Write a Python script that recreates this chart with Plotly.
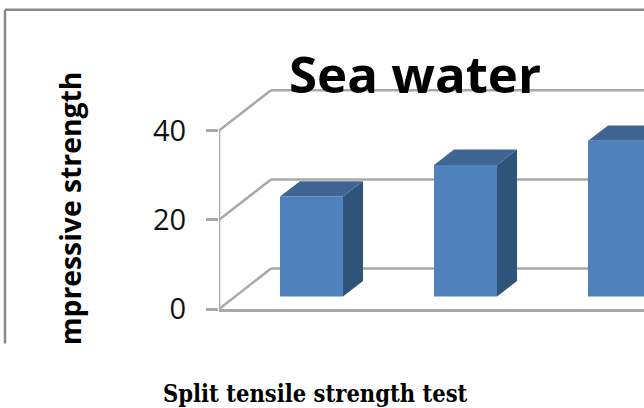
import plotly.graph_objects as go

# Data
categories = [0, 1, 2]
values = [22.4, 29.5, 34.9]
tick_values = [0, 20, 40]
tick_labels = ["0", "20", "40"]
title_text = "Sea water"
y_label = "mpressive strength"
x_label = "Split tensile strength test"

# Pseudo-3D depth in axis units
W, H = 644, 408
PX_PER_Y = 4.47
PX_PER_X = 154.0
DEPTH_X = 52 / PX_PER_X
DEPTH_Y = 40.5 / PX_PER_Y
BAR_W = 63 / PX_PER_X
BAR_DX = 20 / PX_PER_X
BAR_DY = 15.5 / PX_PER_Y
LIFT = 12.5 / PX_PER_Y
X0 = -0.6006
X1 = 2.159
Y_TOP = 50

GRID = "#a8a8a8"
FRONT = "#4f81bd"
SIDE = "#2f5479"
TOP = "#3f6592"

fig = go.Figure()

fig.add_trace(go.Bar(
    x=categories, y=values, base=[LIFT] * len(values), width=BAR_W,
    marker=dict(color=FRONT, line=dict(width=0)), showlegend=False,
))
for c, v in zip(categories, values):
    l, r = c - BAR_W / 2, c + BAR_W / 2
    t, b = v + LIFT, LIFT
    fig.add_trace(go.Scatter(
        x=[r, r + BAR_DX, r + BAR_DX, r, r], y=[b, b + BAR_DY, t + BAR_DY, t, b],
        mode="lines", fill="toself", fillcolor=SIDE, line=dict(width=0), showlegend=False,
    ))
    fig.add_trace(go.Scatter(
        x=[l, l + BAR_DX, r + BAR_DX, r, l], y=[t, t + BAR_DY, t + BAR_DY, t, t],
        mode="lines", fill="toself", fillcolor=TOP, line=dict(width=0), showlegend=False,
    ))

shapes = []
for v in tick_values:
    shapes.append(dict(type="line", xref="x", yref="y", layer="below",
                       x0=X0, y0=v, x1=X0 + DEPTH_X, y1=v + DEPTH_Y,
                       line=dict(color=GRID, width=2.5)))
    shapes.append(dict(type="line", xref="x", yref="y", layer="below",
                       x0=X0 + DEPTH_X, y0=v + DEPTH_Y, x1=X1, y1=v + DEPTH_Y,
                       line=dict(color=GRID, width=2.5)))
# Outer chart frame, cut off at the bottom and right as in the source image
shapes.append(dict(type="line", xref="paper", yref="paper",
                   x0=-214 / 425, x1=1, y0=(309.5 - 9.5) / 223.5, y1=(309.5 - 9.5) / 223.5,
                   line=dict(color="#8a8a8a", width=2.5)))
shapes.append(dict(type="line", xref="paper", yref="paper",
                   x0=-214 / 425, x1=-214 / 425, y0=(309.5 - 344) / 223.5, y1=(309.5 - 9.5) / 223.5,
                   line=dict(color="#8a8a8a", width=2.5)))

annotations = [
    dict(text=title_text, xref="paper", yref="paper", x=(415 - 219) / 425, y=(309.5 - 73) / 223.5,
         showarrow=False, xanchor="center", yanchor="middle",
         font=dict(family="Open Sans", size=51, color="black", weight="bold")),
    dict(text=y_label, xref="paper", yref="paper", x=(70 - 219) / 425, y=(309.5 - 208.5) / 223.5,
         showarrow=False, textangle=-90, xanchor="center", yanchor="middle",
         font=dict(family="Open Sans", size=28.3, color="black", weight="bold")),
    dict(text=x_label, xref="paper", yref="paper", x=(315 - 219) / 425, y=(309.5 - 395) / 223.5,
         showarrow=False, xanchor="center", yanchor="middle",
         font=dict(family="DejaVu Serif Condensed, DejaVu Serif", size=23.5, color="black", weight="bold")),
]

fig.update_layout(
    width=W, height=H, autosize=False,
    margin=dict(l=219, r=0, t=86, b=98.5),
    paper_bgcolor="white", plot_bgcolor="white",
    barmode="overlay", shapes=shapes, annotations=annotations, showlegend=False,
    xaxis=dict(range=[X0, X1], showgrid=False, zeroline=False, showticklabels=False,
               ticks="", showline=True, linecolor=GRID, linewidth=2.5),
    yaxis=dict(range=[0, Y_TOP], tickvals=tick_values, ticktext=tick_labels,
               showgrid=False, zeroline=False,
               ticks="outside", ticklen=12, tickwidth=2.5, tickcolor=GRID,
               ticklabelstandoff=14,
               tickfont=dict(family="Open Sans", size=29, color="#111111"),
               showline=False),
)
# Front-left wall edge, only as high as the top tick
fig.add_shape(type="line", xref="x", yref="y", layer="below", x0=X0, x1=X0,
              y0=tick_values[0], y1=tick_values[-1], line=dict(color=GRID, width=2.5))

fig.write_html("out.html", config={"displayModeBar": False},
               post_script="document.body.style.margin='0';document.body.style.overflow='hidden';")
